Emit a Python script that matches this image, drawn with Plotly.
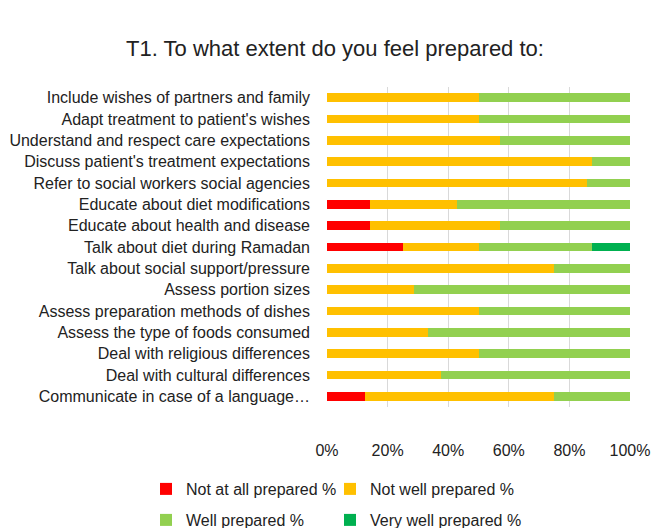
import plotly.graph_objects as go

categories = [
    "Include wishes of partners and family",
    "Adapt treatment to patient's wishes",
    "Understand and respect care expectations",
    "Discuss patient's treatment expectations",
    "Refer to social workers social agencies",
    "Educate about diet modifications",
    "Educate about health and disease",
    "Talk about diet during Ramadan",
    "Talk about social support/pressure",
    "Assess portion sizes",
    "Assess preparation methods of dishes",
    "Assess the type of foods consumed",
    "Deal with religious differences",
    "Deal with cultural differences",
    "Communicate in case of a language…",
]
not_at_all = [0, 0, 0, 0, 0, 14.3, 14.3, 25, 0, 0, 0, 0, 0, 0, 12.5]
not_well = [50, 50, 57.1, 87.5, 85.7, 28.6, 42.9, 25, 75, 28.6, 50, 33.3, 50, 37.5, 62.5]
well = [50, 50, 42.9, 12.5, 14.3, 57.1, 42.9, 37.5, 25, 71.4, 50, 66.7, 50, 62.5, 25]
very_well = [0, 0, 0, 0, 0, 0, 0, 12.5, 0, 0, 0, 0, 0, 0, 0]

series_names = ["Not at all prepared %", "Not well prepared %",
                "Well prepared %", "Very well prepared %"]
series_values = [not_at_all, not_well, well, very_well]
series_colors = ["#FF0000", "#FFC000", "#92D050", "#00B050"]

font_family = "Liberation Sans, Arial, sans-serif"
txt = "#222222"

# plot area: x 327..630, y 87..407
L, R, T, B = 327, 21, 87, 121
pw, ph = 651 - L - R, 528 - T - B


def px_x(px):
    return (px - L) / pw


def px_y(py):
    return (528 - B - py) / ph


# legend slot (left pixel, middle pixel) for each series
legend_slots = [(146, 489), (330, 489), (146, 520), (330, 520)]
legend_ids = ["legend", "legend2", "legend3", "legend4"]

fig = go.Figure()
for name, vals, color, lid in zip(series_names, series_values, series_colors, legend_ids):
    fig.add_trace(go.Bar(
        y=categories, x=vals, name=name, orientation="h",
        marker=dict(color=color, line=dict(width=0)),
        legend=lid, showlegend=True,
    ))

legends = {}
for lid, (lx, ly) in zip(legend_ids, legend_slots):
    legends[lid] = dict(orientation="h", xref="paper", yref="paper",
                        x=px_x(lx), y=px_y(ly),
                        xanchor="left", yanchor="middle",
                        font=dict(size=16, color=txt),
                        bgcolor="rgba(0,0,0,0)")

fig.update_layout(
    showlegend=True,
    barmode="stack",
    bargap=0.6,
    width=651, height=528,
    margin=dict(l=L, r=R, t=T, b=B, autoexpand=False),
    paper_bgcolor="white", plot_bgcolor="white",
    font=dict(family=font_family, size=16, color=txt),
    title=dict(text="T1. To what extent do you feel prepared to:",
               x=335/651, xref="container", xanchor="center",
               y=1-48/528, yref="container", yanchor="middle",
               font=dict(size=22, color=txt)),
    xaxis=dict(range=[0, 100], tickvals=[0, 20, 40, 60, 80, 100],
               ticktext=["0%", "20%", "40%", "60%", "80%", "100%"],
               showgrid=True, gridcolor="#D9D9D9", gridwidth=1,
               zeroline=False, showline=False, ticks="", ticklabelstandoff=32,
               automargin=False,
               tickfont=dict(size=16, color=txt)),
    yaxis=dict(autorange="reversed", showgrid=False, zeroline=False,
               showline=False, ticks="", ticklabelstandoff=16,
               automargin=False,
               tickfont=dict(size=16, color=txt)),
    **legends,
)
fig.write_html("out.html")
